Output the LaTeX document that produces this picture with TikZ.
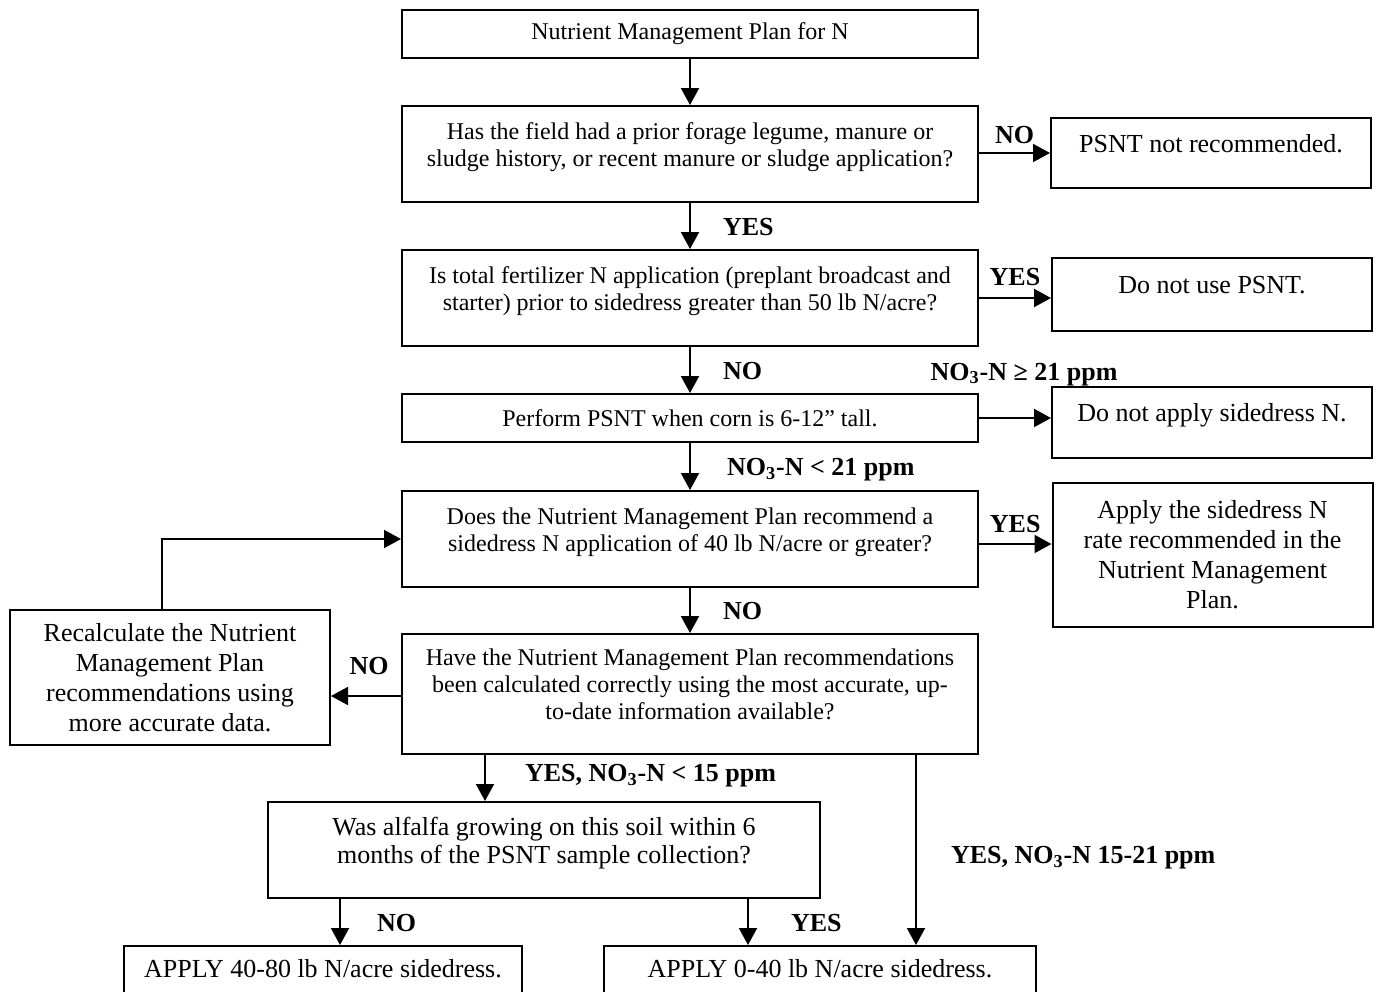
\documentclass[tikz,border=0pt]{standalone}
\usepackage{fontspec}
\setmainfont{Liberation Serif}
\usetikzlibrary{arrows.meta, positioning}

\begin{document}
\begin{tikzpicture}[x=0.5pt, y=-0.5pt,
        box/.style={draw, rectangle, line width=1pt, align=center, inner sep=2pt, font=\fontsize{12}{13.5}\selectfont},
        mainbox/.style={box, minimum width=288pt},
        sidebox/.style={box, minimum width=160pt, font=\fontsize{13}{15}\selectfont},
        lifted/.style={execute at end node={\rule[-9.7pt]{0pt}{0pt}}},
        lbl/.style={font=\bfseries\fontsize{13}{15}\selectfont, inner sep=0pt},
        arrow/.style={-{Triangle[length=8.5pt, width=9pt]}, line width=1pt}
    ]
    \useasboundingbox (0,0) rectangle (1376,991);

    % Columna central
    \node[mainbox, minimum height=24pt] (plan) at (690,34) {Nutrient Management Plan for N};
    \node[mainbox, lifted, minimum height=48pt] (history) at (690,154) {Has the field had a prior forage legume, manure or\\sludge history, or recent manure or sludge application?};
    \node[mainbox, lifted, minimum height=48pt] (fert) at (690,298) {Is total fertilizer N application (preplant broadcast and\\starter) prior to sidedress greater than 50 lb N/acre?};
    \node[mainbox, minimum height=24pt] (psnt) at (690,418) {Perform PSNT when corn is 6-12” tall.};
    \node[mainbox, lifted, minimum height=48pt] (rate) at (690,539) {Does the Nutrient Management Plan recommend a\\sidedress N application of 40 lb N/acre or greater?};
    \node[mainbox, lifted, minimum height=60pt] (check) at (690,694) {Have the Nutrient Management Plan recommendations\\been calculated correctly using the most accurate, up-\\to-date information available?};

    % Cajas laterales
    \node[sidebox, lifted, minimum height=35pt] (psntno) at (1211,153) {PSNT not recommended.};
    \node[sidebox, lifted, minimum height=36.5pt] (nouse) at (1212,294.5) {Do not use PSNT.};
    \node[sidebox, lifted, minimum height=35.5pt] (noapply) at (1212,422.5) {Do not apply sidedress N.};
    \node[sidebox, minimum height=72pt] (applyrate) at (1212.5,555) {Apply the sidedress N\\rate recommended in the\\Nutrient Management\\Plan.};
    \node[sidebox, minimum height=67.5pt] (recalc) at (170,677.5) {Recalculate the Nutrient\\Management Plan\\recommendations using\\more accurate data.};

    % Parte inferior
    \node[sidebox, lifted, minimum width=276pt, minimum height=48pt, font=\fontsize{13}{14}\selectfont] (alfalfa) at (544,850) {Was alfalfa growing on this soil within 6\\months of the PSNT sample collection?};
    \node[sidebox, lifted, minimum width=199pt, minimum height=32pt] (applyhigh) at (323,978) {APPLY 40-80 lb N/acre sidedress.};
    \node[sidebox, lifted, minimum width=216pt, minimum height=32pt] (applylow) at (820,978) {APPLY 0-40 lb N/acre sidedress.};

    % Conexiones
    \draw[arrow] (plan) -- (history);
    \draw[arrow] (history) -- node[lbl, pos=0.7, anchor=base west, xshift=16pt] {YES} (fert);
    \draw[arrow] (fert) -- node[lbl, pos=0.7, anchor=base west, xshift=16pt] {NO} (psnt);
    \draw[arrow] (psnt) -- node[lbl, pos=0.7, anchor=base west, xshift=18pt] {NO\textsubscript{3}-N < 21 ppm} (rate);
    \draw[arrow] (rate) -- node[lbl, pos=0.7, anchor=base west, xshift=16pt] {NO} (check);

    \draw[arrow] (history.east |- psntno.west) -- node[lbl, anchor=base, yshift=5pt] {NO} (psntno.west);
    \draw[arrow] (fert.east) -- node[lbl, anchor=base, yshift=6.5pt] {YES} (fert.east -| nouse.west);
    \draw[arrow] (psnt.east) -- node[lbl, anchor=base, xshift=4.5pt, yshift=19pt] {NO\textsubscript{3}-N ≥ 21 ppm} (psnt.east -| noapply.west);
    \draw[arrow] ([yshift=-2.5pt]rate.east) -- node[lbl, anchor=base, yshift=6pt] {YES} ([yshift=-2.5pt]rate.east -| applyrate.west);

    \draw[arrow] ([yshift=-1pt]check.west) -- node[lbl, anchor=base, xshift=1.5pt, yshift=11pt] {NO} ([yshift=-1pt]check.west -| recalc.east);
    % Vuelta al plan
    \draw[arrow] ([xshift=-4pt]recalc.north) |- (rate.west);

    \draw[arrow] ([xshift=-102.5pt]check.south) -- node[lbl, pos=0.58, anchor=base west, xshift=19.5pt] {YES, NO\textsubscript{3}-N < 15 ppm} ([xshift=-102.5pt]check.south |- alfalfa.north);
    \draw[arrow] ([xshift=113pt]check.south) -- node[lbl, pos=0.57, anchor=base west, xshift=17pt] {YES, NO\textsubscript{3}-N 15-21 ppm} ([xshift=113pt]check.south |- applylow.north);
    \draw[arrow] ([xshift=-102pt]alfalfa.south) -- node[lbl, pos=0.7, anchor=base west, xshift=18pt] {NO} ([xshift=-102pt]alfalfa.south |- applyhigh.north);
    \draw[arrow] ([xshift=102pt]alfalfa.south) -- node[lbl, pos=0.7, anchor=base west, xshift=21pt] {YES} ([xshift=102pt]alfalfa.south |- applylow.north);
\end{tikzpicture}
\end{document}
